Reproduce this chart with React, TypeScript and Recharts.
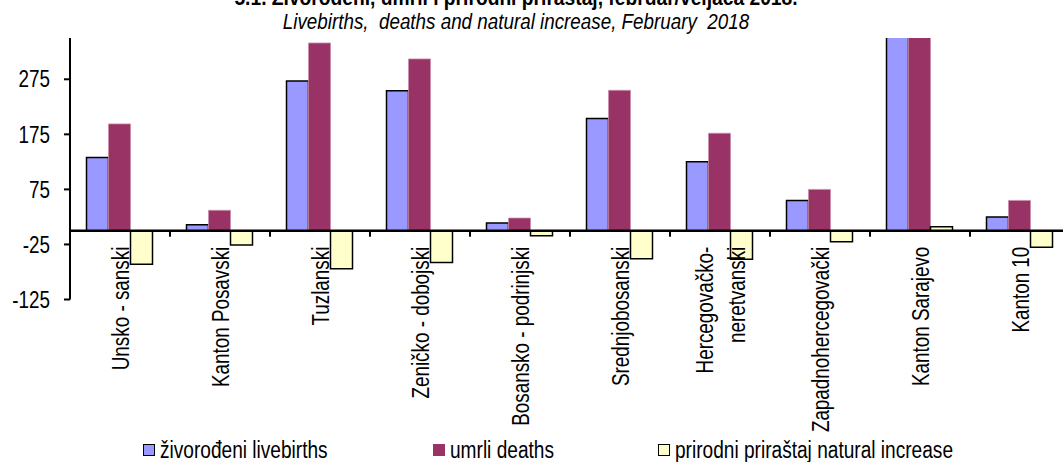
import { Bar, BarChart, Legend, ReferenceLine, XAxis, YAxis } from "recharts";

const categories = [
  "Unsko - sanski",
  "Kanton Posavski",
  "Tuzlanski",
  "Zeničko - dobojski",
  "Bosansko - podrinjski",
  "Srednjobosanski",
  "Hercegovačko-\nneretvanski",
  "Zapadnohercegovački",
  "Kanton Sarajevo",
  "Kanton 10",
];
const livebirths = [133, 11, 272, 254, 14, 204, 125, 55, 430, 25];
const deaths = [194, 37, 341, 312, 23, 255, 177, 75, 423, 55];
const naturalIncrease = [-61, -26, -69, -58, -9, -51, -52, -20, 7, -30];
const yTicks = [-125, -25, 75, 175, 275];
const yDomain: [number, number] = [-125, 350];

const seriesNames = ["živorođeni livebirths", "umrli deaths", "prirodni priraštaj natural increase"];

const data = categories.map((name, i) => ({
  name,
  livebirths: livebirths[i],
  deaths: deaths[i],
  naturalIncrease: naturalIncrease[i],
}));

// no narrow face installed, so regular Liberation Sans squeezed horizontally
const FONT = '"Liberation Sans", Arial, sans-serif';
const SQUEEZE = 0.82;
const CHART_W = 1080;
const CHART_H = 462;
const MARGIN = { top: 38, right: 10, bottom: 161.5, left: 10 };
const X_AXIS_H = 1;
const Y_AXIS_W = 60;
const plotH = CHART_H - MARGIN.top - MARGIN.bottom - X_AXIS_H;
const plotW = CHART_W - MARGIN.left - MARGIN.right - Y_AXIS_W;
const zeroY = MARGIN.top + (yDomain[1] / (yDomain[1] - yDomain[0])) * plotH;
const band = plotW / categories.length;

function CategoryTick(props: any) {
  const { x, payload, index } = props;
  const lines = String(payload.value).split("\n");
  const top = zeroY + 16;
  const lineGap = 32;
  const cx = x + 0.5;
  return (
    <g>
      {index < categories.length - 1 && (
        <line x1={x + band / 2} x2={x + band / 2} y1={zeroY} y2={zeroY + 6} stroke="#000" strokeWidth={2} />
      )}
      {lines.map((line, i) => {
        const lx = cx + (i - (lines.length - 1) / 2) * lineGap;
        return (
          <text
            key={i}
            x={0}
            y={0}
            transform={`translate(${lx}, ${top}) rotate(-90) scale(${SQUEEZE}, 1)`}
            textAnchor="end"
            dominantBaseline="central"
            fontFamily={FONT}
            fontSize={23}
            fill="#000"
          >
            {line}
          </text>
        );
      })}
    </g>
  );
}

function ValueTick(props: any) {
  const { x, y, payload } = props;
  return (
    <text
      x={0}
      y={0}
      transform={`translate(${x}, ${y}) scale(${SQUEEZE}, 1)`}
      textAnchor="end"
      dominantBaseline="central"
      fontFamily={FONT}
      fontSize={23}
      fill="#000"
    >
      {payload.value}
    </text>
  );
}

const legendLeft = [143, 433, 658];

function LegendContent(props: any) {
  const items = [...(props.payload || [])].sort(
    (a: any, b: any) => seriesNames.indexOf(a.value) - seriesNames.indexOf(b.value)
  );
  return (
    <div style={{ position: "relative", height: 0 }}>
      {items.map((item: any, i: number) => (
        <div
          key={item.value}
          style={{
            position: "absolute",
            left: legendLeft[i],
            top: 0,
            display: "flex",
            alignItems: "center",
            whiteSpace: "nowrap",
            fontFamily: FONT,
            fontSize: 23,
            lineHeight: "24px",
            color: "#000",
          }}
        >
          <span
            style={{
              display: "inline-block",
              width: 12,
              height: 12,
              background: item.color,
              border: i === 1 ? "none" : "1px solid #000",
              marginRight: 5,
              boxSizing: "border-box",
            }}
          />
          <span style={{ display: "inline-block", transform: `scaleX(${SQUEEZE + 0.01})`, transformOrigin: "left center" }}>
            {item.value}
          </span>
        </div>
      ))}
    </div>
  );
}

export default function App() {
  return (
    <div style={{ position: "fixed", left: 0, top: 0, width: 1063, height: 462, overflow: "hidden", background: "#fff" }}>
      <div
        style={{
          position: "absolute",
          left: 0,
          top: -13,
          width: 1032,
          textAlign: "center",
          fontFamily: FONT,
          fontWeight: "bold",
          fontSize: 22,
          lineHeight: 1,
          whiteSpace: "pre",
          transform: "scaleX(0.874)",
        }}
      >
        5.1. Živorođeni, umrli i prirodni priraštaj, februar/veljača 2018.
      </div>
      <div
        style={{
          position: "absolute",
          left: 0,
          top: 12,
          width: 1032,
          textAlign: "center",
          fontFamily: FONT,
          fontStyle: "italic",
          fontSize: 21.5,
          lineHeight: 1,
          whiteSpace: "pre",
          transform: "scaleX(0.875)",
        }}
      >
        {"Livebirths,  deaths and natural increase, February  2018"}
      </div>
      <div style={{ position: "absolute", left: 0, top: 0 }}>
        <BarChart width={CHART_W} height={CHART_H} data={data} margin={MARGIN} barCategoryGap="16.5%" barGap={0}>
          <XAxis dataKey="name" height={X_AXIS_H} axisLine={false} tickLine={false} interval={0} tick={<CategoryTick />} />
          <YAxis
            width={Y_AXIS_W}
            domain={yDomain}
            ticks={yTicks}
            allowDataOverflow
            interval={0}
            axisLine={{ stroke: "#000", strokeWidth: 2 }}
            tickLine={{ stroke: "#000", strokeWidth: 2 }}
            tickSize={6}
            tickMargin={14}
            tick={<ValueTick />}
          />
          <Legend
            content={<LegendContent />}
            wrapperStyle={{ position: "absolute", left: 0, top: 438, width: 1063, height: 0 }}
          />
          <Bar dataKey="livebirths" name={seriesNames[0]} fill="#9999FF" stroke="#000" strokeWidth={1.5} isAnimationActive={false} />
          <Bar dataKey="deaths" name={seriesNames[1]} fill="#993366" stroke="#C88FAB" strokeWidth={0.8} isAnimationActive={false} />
          <Bar dataKey="naturalIncrease" name={seriesNames[2]} fill="#FFFFCC" stroke="#000" strokeWidth={1.5} isAnimationActive={false} />
          <ReferenceLine y={0} stroke="#000" strokeWidth={2.5} />
        </BarChart>
      </div>
    </div>
  );
}
